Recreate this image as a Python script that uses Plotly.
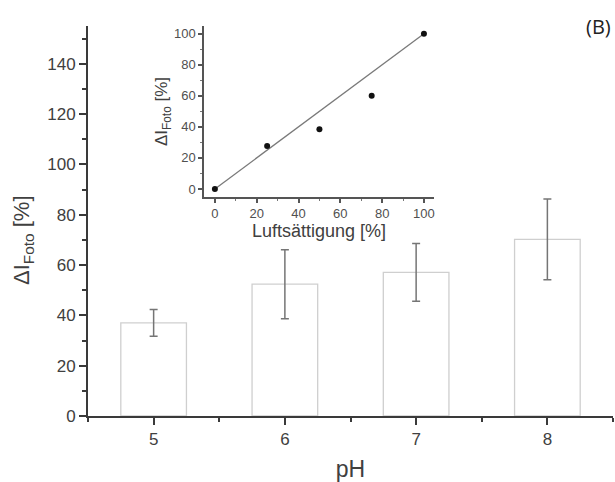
import plotly.graph_objects as go

# Main chart data
ph = [5, 6, 7, 8]
delta_i = [37, 52.4, 57.1, 70.2]
err = [5.3, 13.7, 11.5, 16.0]

# Inset data
luft = [0, 25, 50, 75, 100]
inset_vals = [0, 27.7, 38.5, 60, 100]
fit_x = [0, 100]
fit_y = [0, 100]

FONT = "Liberation Sans, Arial, sans-serif"
AX = "#3a3a3a"
TXT = "#404040"

fig = go.Figure()
fig.add_trace(go.Bar(
    x=ph, y=delta_i, width=0.5,
    marker=dict(color="white", line=dict(color="#cfcfcf", width=1.3)),
    error_y=dict(type="data", array=err, color="#757575", thickness=1.5, width=4),
    xaxis="x", yaxis="y", showlegend=False,
))
fig.add_trace(go.Scatter(
    x=fit_x, y=fit_y, mode="lines", line=dict(color="#7a7a7a", width=1.3),
    xaxis="x2", yaxis="y2", showlegend=False,
))
fig.add_trace(go.Scatter(
    x=luft, y=inset_vals, mode="markers", marker=dict(color="#111", size=6),
    xaxis="x2", yaxis="y2", showlegend=False,
))

fig.update_layout(
    width=615, height=482,
    margin=dict(l=88, r=2, t=26, b=66),
    paper_bgcolor="white", plot_bgcolor="rgba(0,0,0,0)",
    font=dict(family=FONT, color=TXT),
    xaxis=dict(
        range=[4.5, 8.5], domain=[0, 1], tickvals=ph, ticktext=[str(p) for p in ph],
        showline=True, linecolor=AX, linewidth=2, ticks="outside", ticklen=7, tickwidth=2,
        tickcolor=AX, showgrid=False, zeroline=False, automargin=False,
        tickfont=dict(size=17, color=TXT),
        minor=dict(ticks="outside", dtick=0.5, tick0=0, ticklen=4, tickwidth=2, tickcolor=AX),
        title=dict(text="pH", font=dict(size=23, color=TXT), standoff=20),
    ),
    yaxis=dict(
        range=[0, 155], domain=[0, 1], dtick=20, tick0=0,
        showline=True, linecolor=AX, linewidth=2, ticks="outside", ticklen=7, tickwidth=2,
        tickcolor=AX, showgrid=False, zeroline=False, automargin=False,
        tickfont=dict(size=17, color=TXT),
        minor=dict(ticks="outside", dtick=10, tick0=0, ticklen=4, tickwidth=2, tickcolor=AX),
    ),
    xaxis2=dict(
        range=[-5.2, 104.8], domain=[0.221, 0.659], anchor="y2", dtick=20, tick0=0,
        showline=True, linecolor="#555", linewidth=1.5, ticks="outside", ticklen=4, tickwidth=1.5,
        tickcolor="#555", showgrid=False, zeroline=False, automargin=False,
        tickfont=dict(size=13, color="#505050"),
        minor=dict(ticks="outside", dtick=10, tick0=0, ticklen=2, tickwidth=1, tickcolor="#777"),
        title=dict(text="Luftsättigung [%]", font=dict(size=18, color="#404040"), standoff=0),
    ),
    yaxis2=dict(
        range=[-5.2, 105], domain=[0.5615, 1.0], anchor="x2", dtick=20, tick0=0,
        showline=True, linecolor="#555", linewidth=1.5, ticks="outside", ticklen=4, tickwidth=1.5,
        tickcolor="#555", showgrid=False, zeroline=False, automargin=False,
        tickfont=dict(size=13, color="#505050"),
        minor=dict(ticks="outside", dtick=10, tick0=0, ticklen=2, tickwidth=1, tickcolor="#777"),
        title=dict(text="ΔI<sub>Foto</sub> [%]", font=dict(size=17, color="#404040"), standoff=2),
    ),
    annotations=[
        dict(
            text="(B)", xref="paper", yref="paper", x=1.0, y=1.0, xanchor="right", yanchor="middle",
            showarrow=False, font=dict(size=20, color="#222", family="Open Sans, sans-serif"),
        ),
        dict(
            text="ΔI<sub>Foto</sub> [%]", xref="paper", yref="paper", x=-0.1238, y=0.4513,
            xanchor="center", yanchor="middle", textangle=-90, showarrow=False,
            font=dict(size=22, color=TXT),
        ),
    ],
)

fig.write_html("out.html")
